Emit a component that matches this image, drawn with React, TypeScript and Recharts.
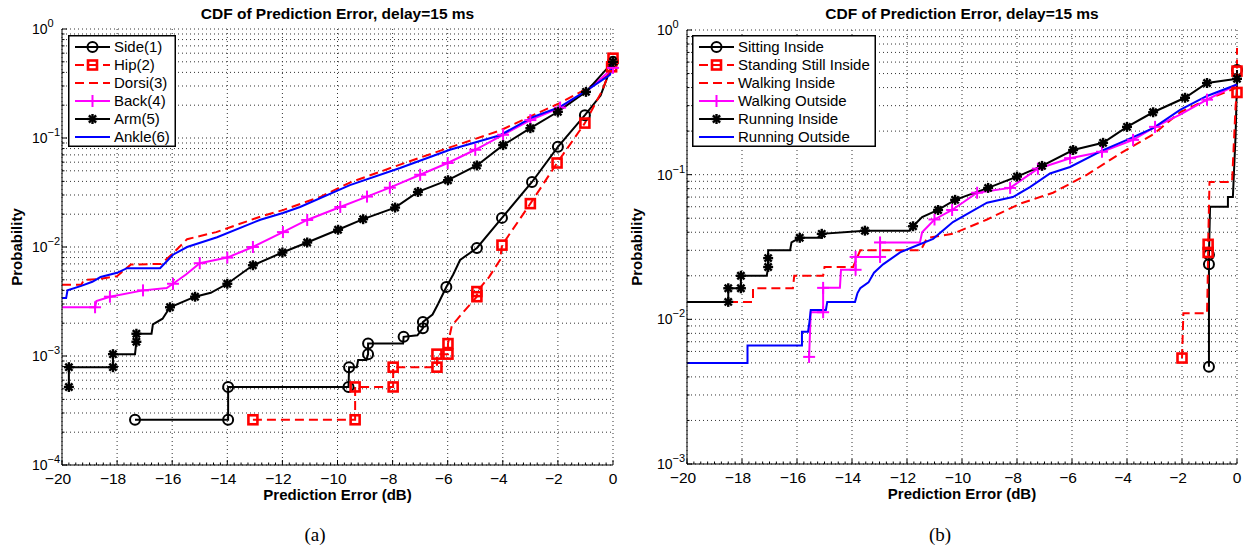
import React from 'react';
import { LineChart, Line, XAxis, YAxis, CartesianGrid, Legend, Customized } from 'recharts';

type Pt = [number, number, number];

const FONT = '"Liberation Sans", Arial, Helvetica, sans-serif';

// ---------- tick values ----------
const xMajorTicks = [-20, -18, -16, -14, -12, -10, -8, -6, -4, -2, 0];
const yDecadesA = [1e-4, 1e-3, 1e-2, 1e-1, 1];
const yDecadesB = [1e-3, 1e-2, 1e-1, 1];
const minorMultipliers = [1, 2, 3, 4, 5, 6, 7, 8, 9];

// ---------- panel (a) data: [x dB, probability, marker?] ----------
const sideA: Pt[] = [
  [-17.35, 2.6e-4, 1], [-13.97, 2.6e-4, 1], [-13.97, 5.2e-4, 1], [-9.6, 5.2e-4, 1],
  [-9.58, 7.9e-4, 1], [-9.3, 7.9e-4, 0], [-9.25, 9.2e-4, 0], [-8.95, 9.2e-4, 0],
  [-8.89, 1.04e-3, 1], [-8.89, 1.3e-3, 1], [-7.62, 1.3e-3, 0], [-7.6, 1.5e-3, 1],
  [-7.1, 1.55e-3, 0], [-6.9, 1.8e-3, 1], [-6.9, 2.05e-3, 1], [-6.55, 2.4e-3, 0],
  [-6.35, 3.0e-3, 0], [-6.05, 4.3e-3, 1], [-5.8, 5.6e-3, 0], [-5.55, 7.6e-3, 0],
  [-4.94, 9.8e-3, 1], [-4.03, 0.0185, 1], [-2.94, 0.0395, 1], [-2.0, 0.083, 1],
  [-1.02, 0.162, 1], [-0.45, 0.245, 0], [0, 0.5, 1],
];
const hipA: Pt[] = [
  [-13.07, 2.6e-4, 1], [-9.36, 2.6e-4, 1], [-9.36, 5.2e-4, 1], [-7.98, 5.2e-4, 1],
  [-7.98, 7.9e-4, 1], [-6.39, 7.9e-4, 1], [-6.39, 1.04e-3, 1], [-5.99, 1.04e-3, 1],
  [-5.99, 1.3e-3, 1], [-5.85, 1.9e-3, 0], [-5.45, 2.5e-3, 0], [-4.94, 3.5e-3, 1],
  [-4.94, 3.9e-3, 1], [-4.5, 5.3e-3, 0], [-4.1, 7.6e-3, 0], [-4.03, 0.0104, 1],
  [-3.0, 0.025, 1], [-2.03, 0.059, 1], [-1.02, 0.137, 1], [-0.4, 0.27, 0],
  [-0.05, 0.45, 1], [0, 0.54, 1],
];
const dorsiA: Pt[] = [
  [-20, 4.5e-3, 0], [-19.3, 4.5e-3, 0], [-19.2, 5.0e-3, 0], [-18.6, 5.1e-3, 0],
  [-18.0, 5.4e-3, 0], [-17.5, 6.9e-3, 0], [-16.4, 7.0e-3, 0], [-16.0, 8.6e-3, 0],
  [-15.46, 0.0118, 0], [-14.4, 0.0137, 0], [-12.8, 0.019, 0], [-11.98, 0.0218, 0],
  [-10.6, 0.029, 0], [-9.55, 0.039, 0], [-7.73, 0.057, 0], [-5.92, 0.082, 0],
  [-4.1, 0.117, 0], [-2.9, 0.162, 0], [-1.92, 0.21, 0], [-0.94, 0.285, 0],
  [-0.11, 0.385, 0], [0, 0.47, 0],
];
const backA: Pt[] = [
  [-20, 2.8e-3, 0], [-18.8, 2.8e-3, 1], [-18.75, 3.2e-3, 0], [-18.26, 3.5e-3, 1],
  [-17.06, 4.0e-3, 1], [-16.2, 4.2e-3, 0], [-15.97, 4.6e-3, 1], [-15.5, 5.6e-3, 0],
  [-15.0, 7.1e-3, 1], [-14.0, 8.0e-3, 1], [-13.07, 0.01, 1], [-11.98, 0.0137, 1],
  [-11.1, 0.0177, 1], [-9.9, 0.0233, 1], [-8.93, 0.029, 1], [-8.1, 0.035, 1],
  [-7.0, 0.046, 1], [-6.0, 0.059, 1], [-5.0, 0.078, 1], [-3.99, 0.107, 1],
  [-3.0, 0.146, 1], [-1.92, 0.19, 1], [-0.94, 0.27, 0], [0, 0.44, 1],
];
const armA: Pt[] = [
  [-19.75, 5.2e-4, 1], [-19.75, 7.9e-4, 1], [-18.15, 7.9e-4, 1], [-18.15, 1.04e-3, 1],
  [-17.35, 1.04e-3, 0], [-17.3, 1.35e-3, 1], [-17.3, 1.6e-3, 1], [-16.75, 1.6e-3, 0],
  [-16.7, 1.95e-3, 0], [-16.35, 2.2e-3, 0], [-16.08, 2.8e-3, 1], [-15.17, 3.5e-3, 1],
  [-14.6, 3.8e-3, 0], [-14.0, 4.6e-3, 1], [-13.07, 6.8e-3, 1], [-12.0, 8.9e-3, 1],
  [-11.1, 0.011, 1], [-9.98, 0.0144, 1], [-9.07, 0.018, 1], [-7.91, 0.023, 1],
  [-7.08, 0.032, 1], [-5.99, 0.041, 1], [-4.94, 0.056, 1], [-3.99, 0.086, 1],
  [-3.0, 0.123, 1], [-2.0, 0.174, 1], [-0.98, 0.265, 1], [0, 0.5, 1],
];
const ankleA: Pt[] = [
  [-20, 3.4e-3, 0], [-19.85, 3.4e-3, 0], [-19.8, 4.0e-3, 0], [-19.3, 4.4e-3, 0],
  [-18.9, 4.8e-3, 0], [-18.6, 5.3e-3, 0], [-18.0, 5.8e-3, 0], [-17.64, 6.4e-3, 0],
  [-16.44, 6.4e-3, 0], [-15.97, 8.5e-3, 0], [-15.46, 0.01, 0], [-14.37, 0.0123, 0],
  [-12.8, 0.0178, 0], [-11.98, 0.0205, 0], [-11.36, 0.0233, 0], [-9.55, 0.037, 0],
  [-7.73, 0.053, 0], [-5.92, 0.078, 0], [-4.1, 0.106, 0], [-2.9, 0.156, 0],
  [-1.92, 0.193, 0], [-0.94, 0.275, 0], [-0.11, 0.38, 0], [0, 0.49, 0],
];

// ---------- panel (b) data ----------
const sittingB: Pt[] = [
  [-1.02, 4.7e-3, 1], [-1.02, 0.024, 1], [-1.02, 0.028, 1], [-0.98, 0.06, 0],
  [-0.33, 0.06, 0], [-0.33, 0.07, 0], [-0.15, 0.07, 0], [-0.05, 0.19, 0],
  [0, 0.45, 0], [0, 0.53, 1],
];
const standingB: Pt[] = [
  [-2.0, 5.4e-3, 1], [-1.95, 0.011, 0], [-1.09, 0.011, 0], [-1.07, 0.0167, 0],
  [-1.05, 0.029, 1], [-1.05, 0.033, 1], [-1.0, 0.089, 0], [-0.18, 0.089, 0],
  [-0.05, 0.3, 0], [0, 0.37, 1], [0, 0.52, 1], [0, 0.75, 0],
];
const walkInB: Pt[] = [
  [-20, 0.0132, 0], [-17.6, 0.0132, 0], [-17.6, 0.0164, 0], [-16.15, 0.0164, 0],
  [-16.1, 0.02, 0], [-15.05, 0.02, 0], [-15.0, 0.023, 0], [-13.96, 0.023, 0],
  [-13.7, 0.03, 0], [-11.5, 0.03, 0], [-11.27, 0.0365, 0], [-10.33, 0.039, 0],
  [-9.09, 0.049, 0], [-7.89, 0.063, 0], [-6.69, 0.075, 0], [-5.45, 0.1, 0],
  [-4.25, 0.14, 0], [-3.05, 0.19, 0], [-2.07, 0.27, 0], [-1.09, 0.33, 0],
  [0, 0.4, 0],
];
const walkOutB: Pt[] = [
  [-15.56, 5.5e-3, 1], [-15.5, 0.0112, 0], [-15.05, 0.0112, 1], [-15.05, 0.0165, 1],
  [-14.44, 0.0165, 0], [-14.4, 0.022, 0], [-13.87, 0.022, 1], [-13.87, 0.027, 1],
  [-12.98, 0.027, 1], [-12.98, 0.034, 1], [-11.53, 0.034, 0], [-11.45, 0.04, 0],
  [-11.0, 0.049, 1], [-10.36, 0.057, 1], [-9.45, 0.075, 1], [-8.25, 0.081, 1],
  [-7.24, 0.11, 1], [-6.07, 0.13, 1], [-4.91, 0.144, 1], [-3.78, 0.174, 1],
  [-2.98, 0.214, 1], [-2.07, 0.26, 0], [-1.09, 0.33, 1], [0, 0.42, 0],
];
const runInB: Pt[] = [
  [-20, 0.0132, 0], [-18.5, 0.0132, 1], [-18.5, 0.0164, 1], [-18.04, 0.0164, 1],
  [-18.04, 0.02, 1], [-17.1, 0.02, 0], [-17.05, 0.023, 1], [-17.05, 0.0265, 1],
  [-17.05, 0.03, 0], [-16.25, 0.03, 0], [-16.2, 0.034, 0], [-15.9, 0.0366, 1],
  [-15.1, 0.0366, 0], [-15.1, 0.039, 1], [-13.53, 0.041, 1], [-11.9, 0.041, 0],
  [-11.78, 0.044, 1], [-11.45, 0.051, 0], [-10.87, 0.057, 1], [-10.25, 0.067, 1],
  [-9.05, 0.081, 1], [-8.0, 0.097, 1], [-7.09, 0.115, 1], [-5.96, 0.148, 1],
  [-4.87, 0.166, 1], [-4.0, 0.214, 1], [-3.05, 0.27, 1], [-1.89, 0.34, 1],
  [-1.09, 0.43, 1], [0, 0.46, 1],
];
const runOutB: Pt[] = [
  [-20, 5.0e-3, 0], [-17.8, 5.0e-3, 0], [-17.8, 6.6e-3, 0], [-15.82, 6.6e-3, 0],
  [-15.82, 8.2e-3, 0], [-15.6, 8.2e-3, 0], [-15.55, 9.5e-3, 0], [-15.5, 0.0116, 0],
  [-14.95, 0.0116, 0], [-14.9, 0.0132, 0], [-13.89, 0.0132, 0], [-13.8, 0.0152, 0],
  [-13.7, 0.0164, 0], [-13.4, 0.018, 0], [-13.2, 0.021, 0], [-12.87, 0.024, 0],
  [-12.25, 0.029, 0], [-11.78, 0.0316, 0], [-11.05, 0.036, 0], [-10.33, 0.047, 0],
  [-9.09, 0.064, 0], [-8.15, 0.07, 0], [-7.53, 0.082, 0], [-6.8, 0.102, 0],
  [-6.07, 0.113, 0], [-4.87, 0.148, 0], [-4.0, 0.174, 0], [-3.05, 0.21, 0],
  [-2.07, 0.28, 0], [-1.09, 0.35, 0], [0, 0.42, 0],
];

type MarkerKind = 'o' | 's' | '+' | '*' | undefined;
type Series = { name: string; pts: Pt[]; color: string; dash?: string; marker?: MarkerKind };

const DASH = '9 5';
const seriesA: Series[] = [
  { name: 'Side(1)', pts: sideA, color: '#000000', marker: 'o' },
  { name: 'Hip(2)', pts: hipA, color: '#ff0000', dash: DASH, marker: 's' },
  { name: 'Dorsi(3)', pts: dorsiA, color: '#ff0000', dash: DASH },
  { name: 'Back(4)', pts: backA, color: '#ff00ff', marker: '+' },
  { name: 'Arm(5)', pts: armA, color: '#000000', marker: '*' },
  { name: 'Ankle(6)', pts: ankleA, color: '#0000ff' },
];
const seriesB: Series[] = [
  { name: 'Sitting Inside', pts: sittingB, color: '#000000', marker: 'o' },
  { name: 'Standing Still Inside', pts: standingB, color: '#ff0000', dash: DASH, marker: 's' },
  { name: 'Walking Inside', pts: walkInB, color: '#ff0000', dash: DASH },
  { name: 'Walking Outside', pts: walkOutB, color: '#ff00ff', marker: '+' },
  { name: 'Running Inside', pts: runInB, color: '#000000', marker: '*' },
  { name: 'Running Outside', pts: runOutB, color: '#0000ff' },
];

// ---------- helpers ----------
const xTicksAll: number[] = (() => {
  const out: number[] = [];
  for (let i = 0; i <= 80; i++) out.push(-20 + i * 0.25);
  return out;
})();

const yTicksFrom = (decades: number[]) => {
  const out: number[] = [];
  decades.forEach((d, i) => {
    if (i === decades.length - 1) { out.push(d); return; }
    minorMultipliers.forEach((m) => out.push(+(d * m).toPrecision(3)));
  });
  return out;
};

const toData = (pts: Pt[]) => pts.map(([x, y, m]) => ({ x, y, m }));

const Marker = ({ kind, cx, cy, color }: { kind: MarkerKind; cx: number; cy: number; color: string }) => {
  if (kind === 'o') return <circle cx={cx} cy={cy} r={5} fill="none" stroke={color} strokeWidth={2} />;
  if (kind === 's') return <rect x={cx - 4.5} y={cy - 4.5} width={9} height={9} fill="none" stroke={color} strokeWidth={2.6} />;
  if (kind === '+')
    return (
      <g stroke={color} strokeWidth={2}>
        <line x1={cx - 6} x2={cx + 6} y1={cy} y2={cy} />
        <line x1={cx} x2={cx} y1={cy - 6} y2={cy + 6} />
      </g>
    );
  if (kind === '*')
    return (
      <g stroke={color} strokeWidth={2.4}>
        <line x1={cx - 5} x2={cx + 5} y1={cy} y2={cy} />
        <line x1={cx} x2={cx} y1={cy - 5} y2={cy + 5} />
        <line x1={cx - 3.6} x2={cx + 3.6} y1={cy - 3.6} y2={cy + 3.6} />
        <line x1={cx - 3.6} x2={cx + 3.6} y1={cy + 3.6} y2={cy - 3.6} />
      </g>
    );
  return null;
};

const makeDot = (kind: MarkerKind, color: string) => (p: any) => {
  const { cx, cy, payload, index } = p;
  if (!payload || !payload.m || cx == null || cy == null) return <g key={`n${index}`} />;
  return (
    <g key={`m${index}`}>
      <Marker kind={kind} cx={cx} cy={cy} color={color} />
    </g>
  );
};

const XTick = (props: any) => {
  const { x, y, payload } = props;
  const v = payload.value as number;
  const major = Math.abs(v / 2 - Math.round(v / 2)) < 1e-6;
  const label = v < 0 ? '\u2212' + Math.abs(v) : String(v);
  return (
    <g>
      <line x1={x} x2={x} y1={y} y2={y - (major ? 5 : 2.5)} stroke="#000" strokeWidth={1} />
      {major && (
        <text x={v < 0 ? x - 4 : x} y={y + 19} textAnchor="middle" fontSize={15.5} fontFamily={FONT} fill="#000">
          {label}
        </text>
      )}
    </g>
  );
};

const YTick = (props: any) => {
  const { x, y, payload } = props;
  const v = payload.value as number;
  const lg = Math.log10(v);
  const major = Math.abs(lg - Math.round(lg)) < 1e-6;
  const e = Math.round(lg);
  return (
    <g>
      <line x1={x} x2={x + (major ? 5 : 2.5)} y1={y} y2={y} stroke="#000" strokeWidth={1} />
      {major && (
        <text x={x - 30} y={y + 5} textAnchor="start" fontSize={14} fontFamily={FONT} fill="#000">
          10
          <tspan dy={-7} fontSize={11}>{e < 0 ? '\u2212' + Math.abs(e) : String(e)}</tspan>
        </text>
      )}
    </g>
  );
};

const LegendBox = ({ series, width }: { series: Series[]; width: number }) => (
  <svg width={width} height={112} style={{ display: 'block' }}>
    <rect x={0.75} y={0.75} width={width - 1.5} height={110.5} fill="#fff" stroke="#000" strokeWidth={1.5} />
    {series.map((s, i) => {
      const cy = 12 + i * 18;
      return (
        <g key={s.name}>
          <line x1={7} x2={42} y1={cy} y2={cy} stroke={s.color} strokeWidth={2} strokeDasharray={s.dash} />
          {s.marker && <Marker kind={s.marker} cx={24.5} cy={cy} color={s.color} />}
          <text x={46} y={cy + 5} fontSize={15} fontFamily={FONT} fill="#000">
            {s.name}
          </text>
        </g>
      );
    })}
  </svg>
);

type PanelProps = {
  series: Series[];
  width: number;
  height: number;
  margin: { top: number; right: number; bottom: number; left: number };
  yDecades: number[];
  legendLeft: number;
  legendWidth: number;
};

const Y_AXIS_W = 40;
const X_AXIS_H = 30;

const PanelText = ({ cxPlot, plotTop, plotBottom, yLabelX }: { cxPlot: number; plotTop: number; plotBottom: number; yLabelX: number }) => {
  const midY = (plotTop + plotBottom) / 2;
  return (
    <g fontFamily={FONT} fill="#000">
      <text x={cxPlot} y={19} textAnchor="middle" fontSize={15.5} fontWeight="bold">
        CDF of Prediction Error, delay=15 ms
      </text>
      <text x={cxPlot} y={plotBottom + 35} textAnchor="middle" fontSize={15} fontWeight="bold">
        Prediction Error (dB)
      </text>
      <text x={yLabelX} y={midY} transform={`rotate(-90 ${yLabelX} ${midY})`} textAnchor="middle" fontSize={15} fontWeight="bold">
        Probability
      </text>
    </g>
  );
};

const Panel = ({ series, width, height, margin, yDecades, legendLeft, legendWidth }: PanelProps) => {
  const yTicks = yTicksFrom(yDecades);
  const plotLeft = margin.left + Y_AXIS_W;
  const plotRight = width - margin.right;
  const plotTop = margin.top;
  const plotBottom = height - margin.bottom - X_AXIS_H;
  const cxPlot = (plotLeft + plotRight) / 2;
  return (
    <LineChart width={width} height={height} margin={margin}>
      <CartesianGrid
        stroke="#333"
        strokeDasharray="1 3"
        horizontalValues={yTicks}
        verticalValues={xMajorTicks}
      />
      <XAxis
        dataKey="x"
        type="number"
        domain={[-20, 0]}
        ticks={xTicksAll}
        interval={0}
        tickSize={0}
        tickMargin={0}
        tickLine={false}
        tick={<XTick />}
        axisLine={{ stroke: '#000', strokeWidth: 1 }}
        height={X_AXIS_H}
        allowDuplicatedCategory
      />
      <YAxis
        type="number"
        scale="log"
        domain={[yDecades[0], 1]}
        ticks={yTicks}
        interval={0}
        tickSize={0}
        tickMargin={0}
        tickLine={false}
        tick={<YTick />}
        axisLine={{ stroke: '#000', strokeWidth: 1 }}
        width={Y_AXIS_W}
      />
      {series.map((s) => (
        <Line
          key={s.name}
          data={toData(s.pts)}
          dataKey="y"
          type="linear"
          stroke={s.color}
          strokeWidth={2}
          strokeDasharray={s.dash}
          dot={s.marker ? makeDot(s.marker, s.color) : false}
          activeDot={false}
          isAnimationActive={false}
          legendType="none"
        />
      ))}
      <Legend
        layout="vertical"
        align="center"
        verticalAlign="middle"
        wrapperStyle={{ position: 'absolute', left: legendLeft, top: 35, width: legendWidth, height: 112, margin: 0, padding: 0 }}
        content={() => <LegendBox series={series} width={legendWidth} />}
      />
      <Customized component={<PanelText cxPlot={cxPlot} plotTop={plotTop} plotBottom={plotBottom} yLabelX={22} />} />
    </LineChart>
  );
};

export default function App() {
  return (
    <div style={{ position: 'absolute', left: 0, top: 0, width: 1245, height: 548, background: '#fff', overflow: 'hidden' }}>
      <div style={{ position: 'absolute', left: 0, top: 0 }}>
        <Panel
          series={seriesA}
          width={620}
          height={548}
          margin={{ top: 29, right: 7, bottom: 53, left: 22 }}
          yDecades={yDecadesA}
          legendLeft={68}
          legendWidth={108}
        />
      </div>
      <div style={{ position: 'absolute', left: 620, top: 0 }}>
        <Panel
          series={seriesB}
          width={625}
          height={548}
          margin={{ top: 30, right: 8, bottom: 54, left: 27 }}
          yDecades={yDecadesB}
          legendLeft={72}
          legendWidth={184}
        />
      </div>
      <div style={{ position: 'absolute', left: 290, top: 523, width: 50, textAlign: 'center', fontFamily: '"Liberation Serif", "Times New Roman", serif', fontSize: 19, lineHeight: '24px' }}>
        (a)
      </div>
      <div style={{ position: 'absolute', left: 915, top: 523, width: 50, textAlign: 'center', fontFamily: '"Liberation Serif", "Times New Roman", serif', fontSize: 19, lineHeight: '24px' }}>
        (b)
      </div>
    </div>
  );
}
